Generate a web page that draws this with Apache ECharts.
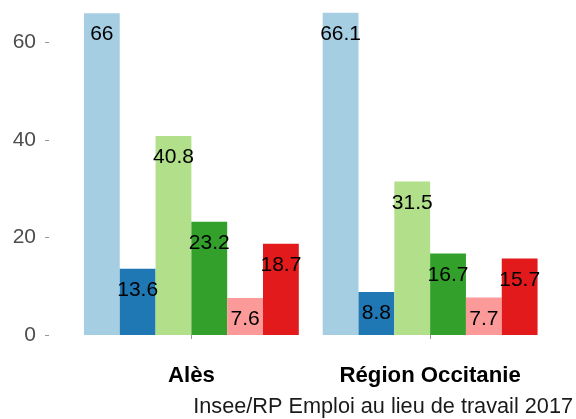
<!DOCTYPE html>
<html>
<head>
<meta charset="utf-8">
<script src="https://cdn.jsdelivr.net/npm/echarts@6/dist/echarts.min.js"></script>
<style>html,body{margin:0;padding:0;background:#fff}#c{width:576px;height:419px}</style>
</head>
<body>
<div id="c"></div>
<script>
const categories = ["Alès", "Région Occitanie"];
const seriesNames = ["Série 1", "Série 2", "Série 3", "Série 4", "Série 5", "Série 6"];
const s1 = [66, 66.1];
const s2 = [13.6, 8.8];
const s3 = [40.8, 31.5];
const s4 = [23.2, 16.7];
const s5 = [7.6, 7.7];
const s6 = [18.7, 15.7];
const yTicks = [0, 20, 40, 60];
const caption = "Insee/RP Emploi au lieu de travail 2017";
const colors = ["#A6CEE3", "#1F78B4", "#B2DF8A", "#33A02C", "#FB9A99", "#E31A1C"];
const allValues = [s1, s2, s3, s4, s5, s6];

const chart = echarts.init(document.getElementById('c'), null, {renderer: 'canvas'});
const font = "Liberation Sans, Arial, sans-serif";
chart.setOption({
  animation: false,
  backgroundColor: '#ffffff',
  title: {
    text: caption, right: 3, top: 396, padding: 0,
    textStyle: {fontFamily: font, fontSize: 21.7, fontWeight: 'normal', color: '#1a1a1a'}
  },
  grid: {left: 72, right: 26.5, top: 3.4, bottom: 84, containLabel: false},
  xAxis: {
    type: 'category', data: categories, offset: 16,
    axisLine: {show: false},
    axisTick: {show: true, alignWithLabel: true, length: 4, lineStyle: {color: '#999999'}},
    axisLabel: {fontFamily: font, fontSize: 22.2, fontWeight: 'bold', color: '#000', margin: 14}
  },
  yAxis: {
    type: 'value', min: 0, max: 68, interval: 20, offset: 23,
    splitLine: {show: false},
    axisLine: {show: false},
    axisTick: {show: true, length: 4, customValues: yTicks, lineStyle: {color: '#999999'}},
    axisLabel: {
      fontFamily: font, fontSize: 21, color: '#4D4D4D', margin: 13,
      customValues: yTicks,
      formatter: v => String(v)
    }
  },
  series: allValues.map((vals, i) => ({
    type: 'bar', name: seriesNames[i], data: vals,
    barGap: '0%', barCategoryGap: '10%',
    itemStyle: {color: colors[i]},
    label: {
      show: true, position: 'insideTop', distance: 11,
      fontFamily: font, fontSize: 21, color: '#000'
    }
  }))
});
</script>
</body>
</html>
